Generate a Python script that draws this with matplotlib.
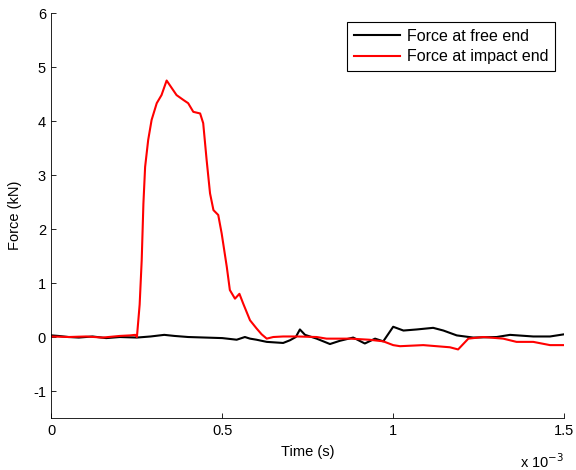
import numpy as np
import matplotlib

matplotlib.use("Agg")

import matplotlib.pyplot as plt
from matplotlib.ticker import FuncFormatter

# time in milliseconds (axis is seconds, shown as x 10^-3)
free_t_ms = [0, 0.02, 0.05, 0.08, 0.12, 0.16, 0.20, 0.25, 0.29, 0.33, 0.36, 0.40,
             0.45, 0.50, 0.542, 0.566, 0.581, 0.60, 0.63, 0.678, 0.698, 0.715,
             0.727, 0.742, 0.776, 0.815, 0.844, 0.883, 0.917, 0.947, 0.971, 0.985,
             1.0, 1.03, 1.069, 1.117, 1.147, 1.186, 1.234, 1.303, 1.342, 1.41,
             1.459, 1.50]
free_force = [0.03, 0.02, 0.0, -0.01, 0.01, -0.02, 0.0, -0.01, 0.01, 0.04, 0.02,
              0.0, -0.01, -0.02, -0.05, 0.0, -0.03, -0.05, -0.09, -0.11, -0.06,
              0.0, 0.14, 0.04, -0.03, -0.13, -0.07, -0.01, -0.12, -0.03, -0.08,
              0.05, 0.19, 0.12, 0.14, 0.17, 0.12, 0.03, -0.01, 0.0, 0.04, 0.01,
              0.01, 0.05]

impact_t_ms = [0, 0.05, 0.10, 0.15, 0.20, 0.23, 0.245, 0.25, 0.258, 0.264, 0.269,
               0.274, 0.283, 0.293, 0.308, 0.322, 0.337, 0.352, 0.366, 0.386,
               0.40, 0.415, 0.435, 0.444, 0.454, 0.464, 0.474, 0.488, 0.498,
               0.513, 0.522, 0.537, 0.550, 0.561, 0.581, 0.600, 0.615, 0.630,
               0.649, 0.678, 0.72, 0.776, 0.805, 0.874, 0.93, 0.971, 1.0, 1.02,
               1.088, 1.166, 1.19, 1.205, 1.22, 1.264, 1.322, 1.361, 1.41, 1.459,
               1.50]
impact_force = [0.01, 0.0, 0.01, -0.01, 0.02, 0.03, 0.04, 0.0, 0.6, 1.42, 2.47,
                3.15, 3.65, 4.02, 4.33, 4.48, 4.75, 4.61, 4.48, 4.39, 4.33, 4.17,
                4.14, 3.96, 3.28, 2.66, 2.35, 2.26, 1.92, 1.30, 0.87, 0.71, 0.80,
                0.62, 0.31, 0.16, 0.05, -0.03, 0.0, 0.01, 0.01, 0.0, -0.03, -0.03,
                -0.05, -0.08, -0.15, -0.17, -0.15, -0.19, -0.23, -0.13, -0.03, 0.0,
                -0.03, -0.09, -0.09, -0.15, -0.15]

x_ticks = [0, 0.5e-3, 1.0e-3, 1.5e-3]
y_ticks = [-1, 0, 1, 2, 3, 4, 5, 6]

plt.rcParams["font.family"] = ["Liberation Sans", "DejaVu Sans"]
plt.rcParams["axes.unicode_minus"] = False
plt.rcParams["font.size"] = 10.5

fig = plt.figure(figsize=(5.76, 4.70), dpi=100)
ax = fig.add_axes([0.0894, 0.1106, 0.8898, 0.8617])

ax.plot(np.array(free_t_ms) * 1e-3, free_force, color="black", lw=1.5,
        label="Force at free end")
ax.plot(np.array(impact_t_ms) * 1e-3, impact_force, color="red", lw=1.5,
        label="Force at impact end")

ax.set_xlim(0, 1.5e-3)
ax.set_ylim(-1.5, 6)
ax.set_xticks(x_ticks)
ax.set_yticks(y_ticks)
ax.xaxis.set_major_formatter(FuncFormatter(lambda v, _: f"{v * 1e3:g}"))
ax.tick_params(direction="in", length=3.6, width=0.6, pad=4)

ax.spines["top"].set_visible(False)
ax.spines["right"].set_visible(False)
for side in ("left", "bottom"):
    ax.spines[side].set_linewidth(0.6)

ax.set_xlabel("Time (s)", labelpad=5)
ax.set_ylabel("Force (kN)", labelpad=8)

fig.text(564 / 576, 1 - 468 / 470, r"x 10$^{-3}$", ha="right", va="baseline")

legend = ax.legend(loc="upper right", fancybox=False, framealpha=1,
                   edgecolor="black", fontsize=11.5, handlelength=2.9,
                   handletextpad=0.4, labelspacing=0.32, borderpad=0.45,
                   borderaxespad=0.55)
legend.get_frame().set_linewidth(0.8)

fig.savefig("out.png", dpi=100)
